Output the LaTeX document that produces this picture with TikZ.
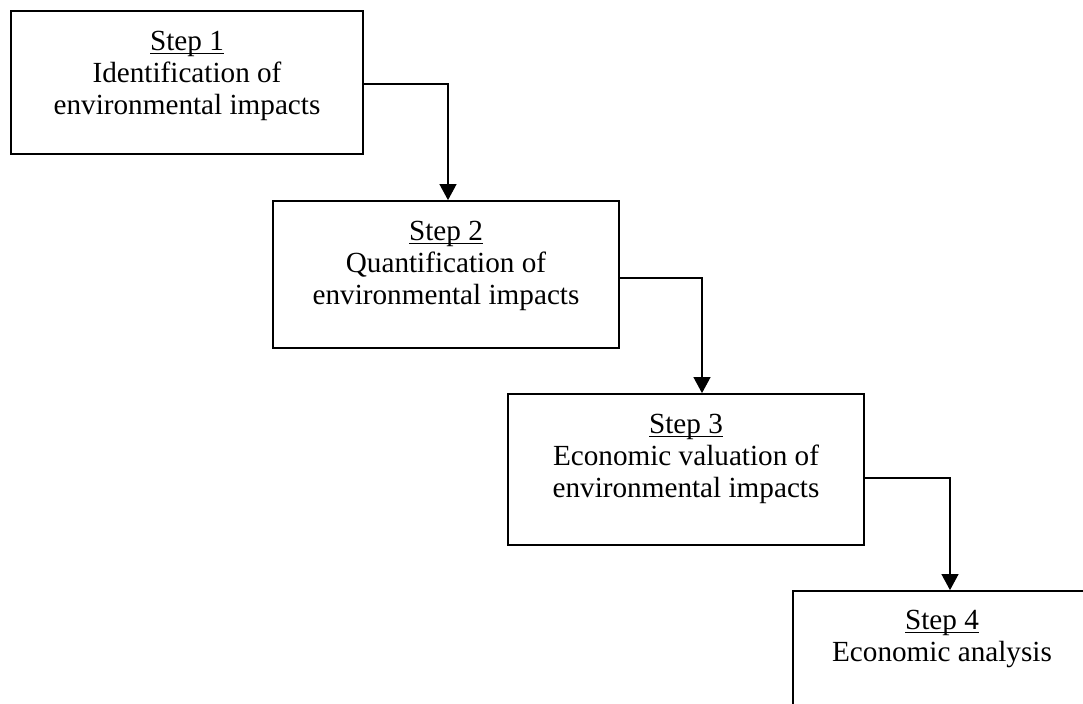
\documentclass[tikz,border=0pt]{standalone}
\usepackage{fontspec}
\setmainfont{Liberation Serif}
\usetikzlibrary{arrows.meta,calc}
\newcommand\stepul[1]{\setbox0\hbox{#1}\rlap{\rule[-1.6pt]{\wd0}{0.6pt}}\box0}
\tikzset{
  stepbox/.style={draw=black, line width=0.9pt, rectangle, inner sep=0pt},
  steptext/.style={anchor=north, align=center, inner sep=0pt, font=\fontsize{14.6}{16}\selectfont},
  conn/.style={draw=black, line width=0.55pt, -{Triangle[length=8pt,width=8.5pt]}}
}
\begin{document}
\begin{tikzpicture}[x=0.5pt,y=-0.5pt]
\clip (0,0) rectangle (1083,704);
\fill[white] (0,0) rectangle (1083,704);
\node[stepbox, minimum width=176pt, minimum height=71.5pt] (b1) at (187,82.5) {};
\node[stepbox, minimum width=173pt, minimum height=73.5pt] (b2) at (446,274.5) {};
\node[stepbox, minimum width=178pt, minimum height=75.5pt] (b3) at (686,469.5) {};
\node[stepbox, minimum width=149pt, minimum height=75pt] (b4) at (942,666) {};
\node[steptext] (t1) at (187,31) {\stepul{Step 1}\\Identification of\\environmental impacts};
\node[steptext] (t2) at (446,221) {\stepul{Step 2}\\Quantification of\\environmental impacts};
\node[steptext] (t3) at (686,414) {\stepul{Step 3}\\Economic valuation of\\environmental impacts};
\node[steptext] (t4) at (942,610) {\stepul{Step 4}\\Economic analysis};
\draw[conn] ($(b1.east)+(0,1.5)$) -| ($(b2.north)+(2,0)$);
\draw[conn] ($(b2.east)+(0,3.5)$) -| ($(b3.north)+(16,0)$);
\draw[conn] ($(b3.east)+(0,8.5)$) -| ($(b4.north)+(8,0)$);
\end{tikzpicture}
\end{document}
